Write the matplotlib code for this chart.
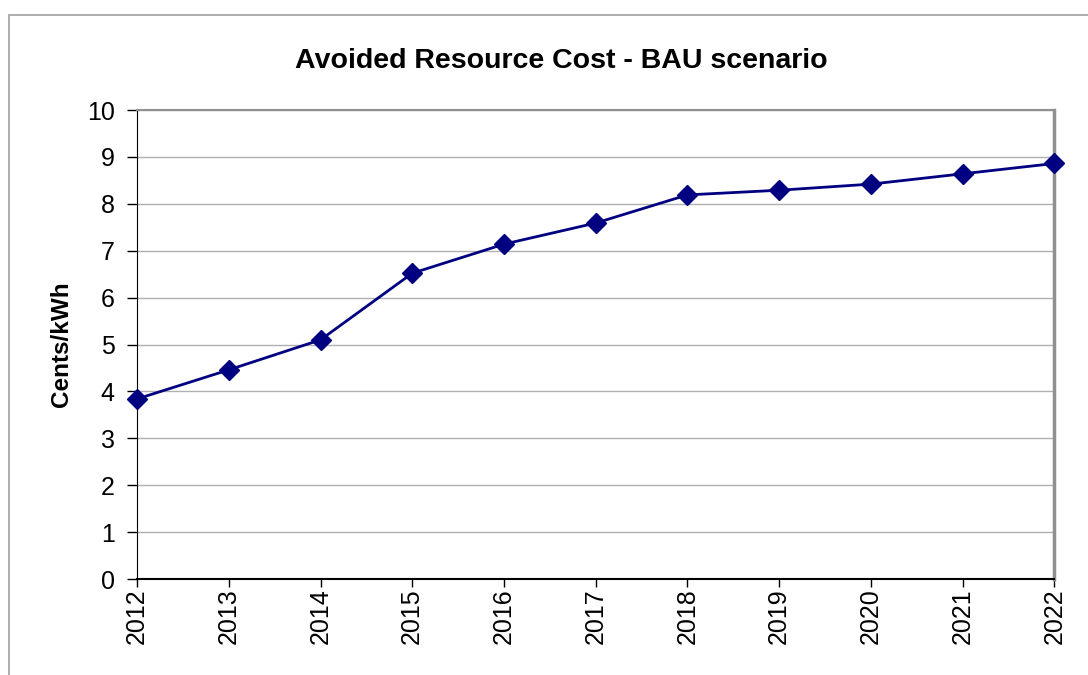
import matplotlib.pyplot as plt
from matplotlib.patches import Rectangle

plt.rcParams['font.family'] = ['Liberation Sans', 'DejaVu Sans']

# data
years = [2012, 2013, 2014, 2015, 2016, 2017, 2018, 2019, 2020, 2021, 2022]
cost = [3.84, 4.46, 5.10, 6.52, 7.14, 7.59, 8.19, 8.29, 8.42, 8.64, 8.86]

fig = plt.figure(figsize=(10.88, 6.75), dpi=100)
ax = fig.add_axes([0.126, 0.1422, 0.843, 0.6948])

# outer chart frame
fig.patches.append(Rectangle((9/1088, -0.1), 1.2, 1 - 15/675 + 0.1, transform=fig.transFigure,
                             fill=False, edgecolor='#a0a0a0', linewidth=1.2))

ax.plot(years, cost, color='#000080', linewidth=2, marker='D', markersize=10,
        markerfacecolor='#000080', markeredgecolor='#000080', zorder=3, clip_on=False)

ax.set_xlim(2012, 2022)
ax.set_ylim(0, 10)
ax.set_xticks(years)
ax.set_xticklabels([str(y) for y in years], rotation=90, fontsize=18)
ax.set_yticks(range(0, 11))
ax.tick_params(axis='y', labelsize=18, length=7, width=1, pad=9)
ax.tick_params(axis='x', length=6, width=1, pad=1)
ax.yaxis.grid(True, color='#b0b0b0', linewidth=1)
ax.set_axisbelow(True)

ax.spines['left'].set_color('black')
ax.spines['bottom'].set_color('black')
ax.spines['bottom'].set_linewidth(1.5)
ax.spines['top'].set_color('#909090')
ax.spines['top'].set_linewidth(1.5)
ax.spines['right'].set_color('#909090')
ax.spines['right'].set_linewidth(2.5)

ax.set_ylabel('Cents/kWh', fontsize=17.5, fontweight='bold', labelpad=10)
fig.text(0.516, 0.91, 'Avoided Resource Cost - BAU scenario', ha='center', va='center',
         fontsize=20.5, fontweight='bold')

plt.savefig('out.png', dpi=100)
